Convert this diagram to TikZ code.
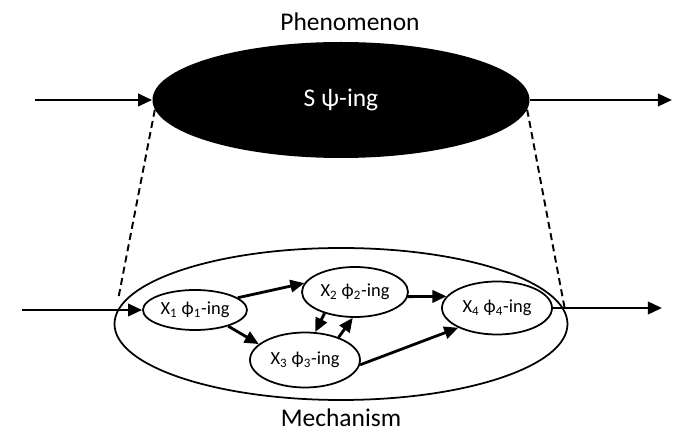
\documentclass[tikz,border=0pt]{standalone}
\usepackage{fontspec}
\setmainfont{Carlito}
\usetikzlibrary{shapes.geometric, arrows.meta}
\def\Px{0.02cm}
\def\Wth{1.6pt}
\tikzset{
    stage/.style={
        ellipse, draw, line width=1pt, inner sep=0pt,
        font=\fontsize{10.5}{12}\selectfont
    },
    flow/.style={-{Triangle[length=8pt,width=7pt]}, line width=\Wth},
    bridge/.style={dash pattern=on 4pt off 2.5pt, line width=1.1pt},
    caption/.style={font=\fontsize{14.5}{17}\selectfont}
}
\newcommand{\Sub}[1]{\textsubscript{#1}}

\begin{document}
\begin{tikzpicture}[x=\Px, y=-\Px]
    \useasboundingbox (0,0) rectangle (674,432);
    % phenomenon level
    \node[caption] (phentxt) at (350,22) {Phenomenon};
    \node[ellipse, fill=black, inner sep=0pt, minimum width=377*\Px, minimum height=116*\Px,
          text=white, caption] (phen) at (341,100) {S ψ-ing};
    \coordinate (inP) at (35,100);
    \coordinate (outP) at (672,100);
    \draw[flow] (inP) -- (phen.west);
    \draw[flow] (phen.east) -- (outP);

    % mechanism level
    \node[ellipse, draw, line width=1pt, minimum width=453*\Px, minimum height=152*\Px] (mech) at (341,324) {};
    \node[caption] (mechtxt) at (341,418) {Mechanism};
    \node[stage, minimum width=104*\Px, minimum height=40*\Px] (x1) at (195,310) {X\Sub{1} ϕ\Sub{1}-ing};
    \node[stage, minimum width=106*\Px, minimum height=50*\Px] (x2) at (355,292) {X\Sub{2} ϕ\Sub{2}-ing};
    \node[stage, minimum width=110*\Px, minimum height=55*\Px] (x3) at (305,360) {X\Sub{3} ϕ\Sub{3}-ing};
    \node[stage, minimum width=110*\Px, minimum height=53*\Px] (x4) at (497,308) {X\Sub{4} ϕ\Sub{4}-ing};
    \coordinate (inM) at (22,310);
    \coordinate (outM) at (662,308);

    % dashed links between the levels
    \coordinate (dl) at (118,300);
    \coordinate (dr) at (565,310);
    \draw[bridge] (phen.183) -- (dl);
    \draw[bridge] (phen.357) -- (dr);

    \draw[flow] (inM) -- (x1);
    \draw[flow] (x4) -- (outM);
    \draw[flow] (x1.16) -- (x2.170);
    \draw[flow] (x1.334) -- (x3.161);
    \draw[flow] (x2.355) -- (x4.167);
    \draw[flow] (x3.355) -- (x4.207);
    \draw[flow] (x2.215) -- (x3.70);
    \draw[flow] (x3.34) -- (x2.265);
\end{tikzpicture}
\end{document}
